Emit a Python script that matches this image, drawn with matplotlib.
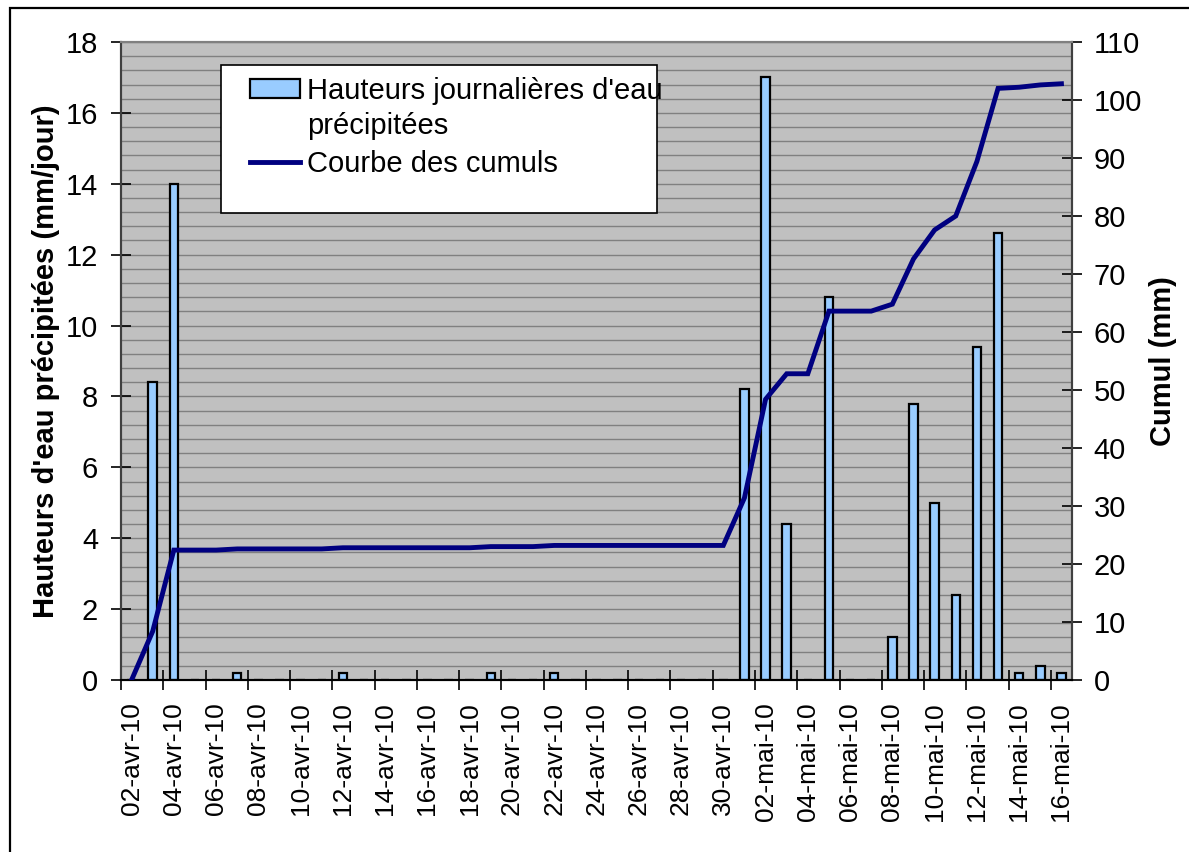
import matplotlib
matplotlib.use("Agg")
import matplotlib.pyplot as plt
from matplotlib.patches import Rectangle
from matplotlib.container import BarContainer
from matplotlib.legend_handler import HandlerPatch, update_from_first_child
import pandas as pd

plt.rcParams["font.family"] = ["Liberation Sans", "DejaVu Sans"]

# jours du 02-avr-10 au 16-mai-10
mois_fr = {4: "avr", 5: "mai"}
jours = pd.date_range("2010-04-02", "2010-05-16", freq="D")
etiquettes = [f"{d.day:02d}-{mois_fr[d.month]}-10" for d in jours]

# hauteurs journalieres (mm/jour)
pluie = [0, 8.4, 14, 0, 0, 0.2, 0, 0, 0, 0,
         0.2, 0, 0, 0, 0, 0, 0, 0.2, 0, 0,
         0.2, 0, 0, 0, 0, 0, 0, 0, 0, 8.2,
         17, 4.4, 0, 10.8, 0, 0, 1.2, 7.8, 5.0, 2.4,
         9.4, 12.6, 0.2, 0.4, 0.2]

# courbe des cumuls (mm)
cumul = [0, 8.4, 22.4, 22.4, 22.4, 22.6, 22.6, 22.6, 22.6, 22.6,
         22.8, 22.8, 22.8, 22.8, 22.8, 22.8, 22.8, 23.0, 23.0, 23.0,
         23.2, 23.2, 23.2, 23.2, 23.2, 23.2, 23.2, 23.2, 23.2, 31.4,
         48.4, 52.8, 52.8, 63.6, 63.6, 63.6, 64.8, 72.6, 77.6, 80.0,
         89.4, 102.0, 102.2, 102.6, 102.8]

x = list(range(len(etiquettes)))
fs = 21

W, H = 1189, 852
fig = plt.figure(figsize=(W / 100, H / 100), dpi=100)
ax = fig.add_axes([121 / W, 1 - 680 / H, (1072 - 121) / W, (680 - 42) / H])
ax.set_facecolor("#C0C0C0")

# cadre exterieur
fig.patches.append(Rectangle((10 / W, -0.1), 1.2, 1 - 8 / H + 0.1, transform=fig.transFigure,
                             fill=False, edgecolor="black", linewidth=1.6, clip_on=False))

barres = ax.bar(x, pluie, width=0.4, color="#99CCFF", edgecolor="black", linewidth=1.6,
                label="Hauteurs journalières d'eau\nprécipitées", zorder=2)

ax.set_xlim(-0.5, len(x) - 0.5)
ax.set_ylim(0, 18)
ax.set_yticks(range(0, 19, 2))
ax.set_yticks([i * 0.4 for i in range(46)], minor=True)
ax.grid(axis="y", which="both", color="#808080", linewidth=1.0)
ax.set_axisbelow(True)

# graduations entre categories, etiquettes au centre
ax.set_xticks([i - 0.5 for i in range(0, len(x), 2)])
ax.set_xticklabels([])
ax.set_xticks(x[::2], minor=True)
ax.set_xticklabels(etiquettes[::2], minor=True, rotation=90, fontsize=19)
ax.tick_params(axis="x", which="major", direction="inout", length=14, width=1.2)
ax.tick_params(axis="x", which="minor", length=0, pad=16)
ax.tick_params(axis="y", which="major", direction="inout", length=15, width=1.2,
               labelsize=fs, pad=9)
ax.tick_params(axis="y", which="minor", length=0)
ax.set_ylabel("Hauteurs d'eau précipitées (mm/jour)", fontsize=fs, fontweight="bold",
              labelpad=4)

ax2 = ax.twinx()
ligne, = ax2.plot(x, cumul, color="#000080", linewidth=3.5, label="Courbe des cumuls",
                  solid_joinstyle="miter", zorder=3)
ax2.set_ylim(0, 110)
ax2.set_yticks(range(0, 111, 10))
ax2.tick_params(axis="y", direction="inout", length=15, width=1.2, labelsize=fs, pad=8)
ax2.set_ylabel("Cumul (mm)", fontsize=fs, fontweight="bold", labelpad=5)

for a in (ax, ax2):
    a.spines["left"].set_color("#404040")
    a.spines["right"].set_color("#404040")
    a.spines["bottom"].set_color("black")
    a.spines["top"].set_color("#808080")
    for s in a.spines.values():
        s.set_linewidth(1.5)


def patch_haut(legend, orig_handle, xdescent, ydescent, width, height, fontsize):
    # carre aligne sur la premiere ligne du texte
    return Rectangle((-xdescent, -ydescent + 0.7 * fontsize), width, height)


# boite de legende
ax2.add_patch(Rectangle((221 / W, 1 - 213 / H), (657 - 221) / W, (213 - 65) / H,
                        transform=fig.transFigure, facecolor="white", clip_on=False,
                        edgecolor="black", linewidth=1.2, zorder=5))
leg = ax2.legend([barres, ligne], [barres.get_label(), ligne.get_label()],
                 loc="upper left", bbox_to_anchor=(250 / W, 1 - 77 / H),
                 bbox_transform=fig.transFigure, frameon=False, fontsize=fs,
                 borderpad=0, borderaxespad=0, handlelength=1.7, handleheight=0.6,
                 handletextpad=0.25, labelspacing=0.35,
                 handler_map={BarContainer: HandlerPatch(patch_func=patch_haut,
                                                         update_func=update_from_first_child)})
for t in leg.get_texts():
    t.set_linespacing(1.3)
leg.set_zorder(6)

fig.savefig("out.png", dpi=100)
